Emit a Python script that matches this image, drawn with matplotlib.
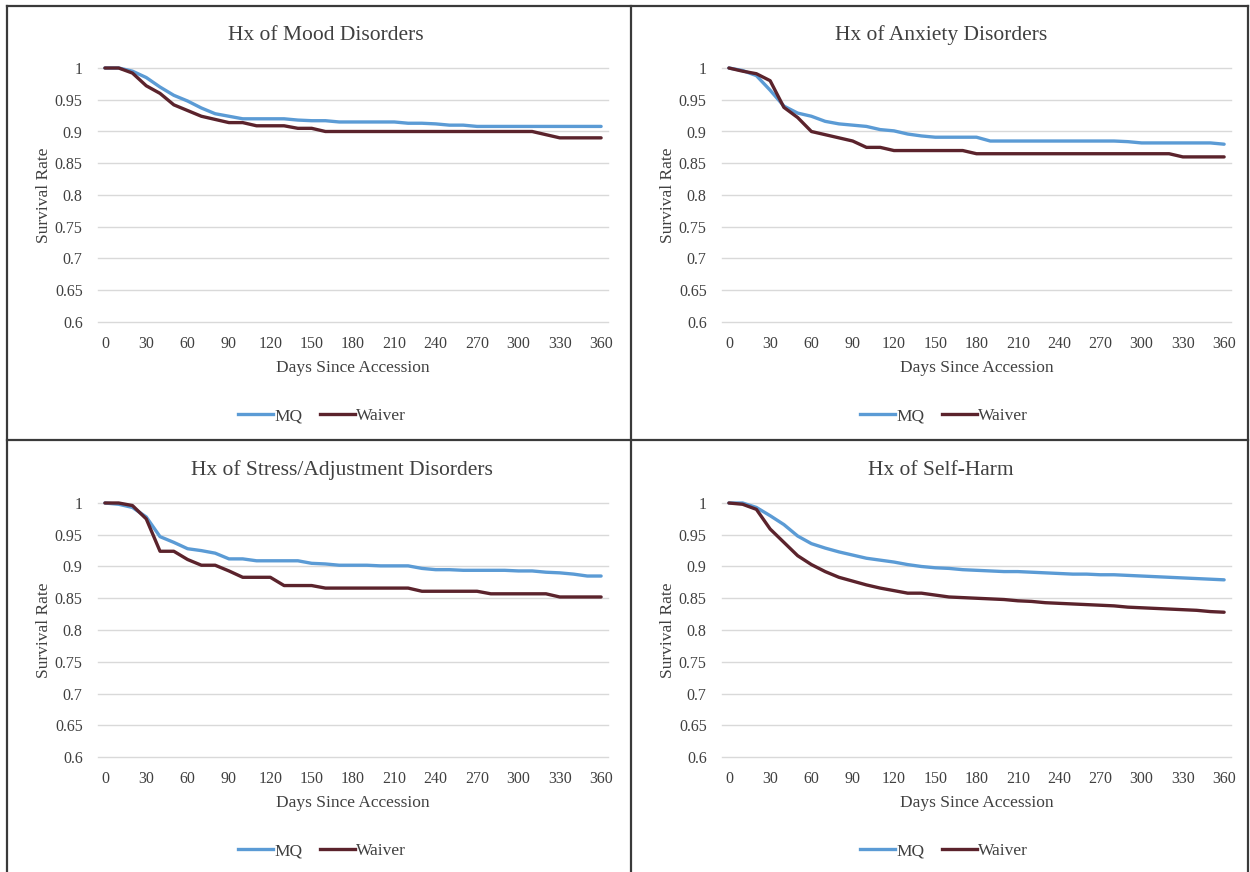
import numpy as np
import matplotlib
matplotlib.use("Agg")
import matplotlib.pyplot as plt
from matplotlib.lines import Line2D

plt.rcParams["font.family"] = ["Liberation Serif", "DejaVu Serif"]

# Days since accession, sampled every 10 days
days = list(range(0, 361, 10))

titles = [
    "Hx of Mood Disorders",
    "Hx of Anxiety Disorders",
    "Hx of Stress/Adjustment Disorders",
    "Hx of Self-Harm",
]

mood_mq = [1.0, 1.0, 0.995, 0.985, 0.97, 0.957, 0.948, 0.937, 0.928, 0.924,
           0.92, 0.92, 0.92, 0.92, 0.918, 0.917, 0.917, 0.915, 0.915, 0.915,
           0.915, 0.915, 0.913, 0.913, 0.912, 0.91, 0.91, 0.908, 0.908, 0.908,
           0.908, 0.908, 0.908, 0.908, 0.908, 0.908, 0.908]
mood_waiver = [1.0, 1.0, 0.992, 0.972, 0.96, 0.942, 0.933, 0.924, 0.919, 0.914,
               0.914, 0.909, 0.909, 0.909, 0.905, 0.905, 0.9, 0.9, 0.9, 0.9,
               0.9, 0.9, 0.9, 0.9, 0.9, 0.9, 0.9, 0.9, 0.9, 0.9,
               0.9, 0.9, 0.895, 0.89, 0.89, 0.89, 0.89]

anx_mq = [1.0, 0.996, 0.988, 0.965, 0.94, 0.929, 0.924, 0.916, 0.912, 0.91,
          0.908, 0.903, 0.901, 0.896, 0.893, 0.891, 0.891, 0.891, 0.891, 0.885,
          0.885, 0.885, 0.885, 0.885, 0.885, 0.885, 0.885, 0.885, 0.885, 0.884,
          0.882, 0.882, 0.882, 0.882, 0.882, 0.882, 0.88]
anx_waiver = [1.0, 0.995, 0.991, 0.98, 0.938, 0.922, 0.9, 0.895, 0.89, 0.885,
              0.875, 0.875, 0.87, 0.87, 0.87, 0.87, 0.87, 0.87, 0.865, 0.865,
              0.865, 0.865, 0.865, 0.865, 0.865, 0.865, 0.865, 0.865, 0.865, 0.865,
              0.865, 0.865, 0.865, 0.86, 0.86, 0.86, 0.86]

stress_mq = [1.0, 0.998, 0.993, 0.978, 0.947, 0.938, 0.928, 0.925, 0.921, 0.912,
             0.912, 0.909, 0.909, 0.909, 0.909, 0.905, 0.904, 0.902, 0.902, 0.902,
             0.901, 0.901, 0.901, 0.897, 0.895, 0.895, 0.894, 0.894, 0.894, 0.894,
             0.893, 0.893, 0.891, 0.89, 0.888, 0.885, 0.885]
stress_waiver = [1.0, 1.0, 0.996, 0.975, 0.924, 0.924, 0.911, 0.902, 0.902, 0.893,
                 0.883, 0.883, 0.883, 0.87, 0.87, 0.87, 0.866, 0.866, 0.866, 0.866,
                 0.866, 0.866, 0.866, 0.861, 0.861, 0.861, 0.861, 0.861, 0.857, 0.857,
                 0.857, 0.857, 0.857, 0.852, 0.852, 0.852, 0.852]

harm_mq = [1.0, 1.0, 0.993, 0.98, 0.966, 0.948, 0.936, 0.929, 0.923, 0.918,
           0.913, 0.91, 0.907, 0.903, 0.9, 0.898, 0.897, 0.895, 0.894, 0.893,
           0.892, 0.892, 0.891, 0.89, 0.889, 0.888, 0.888, 0.887, 0.887, 0.886,
           0.885, 0.884, 0.883, 0.882, 0.881, 0.88, 0.879]
harm_waiver = [1.0, 0.998, 0.99, 0.959, 0.938, 0.917, 0.903, 0.892, 0.883, 0.877,
               0.871, 0.866, 0.862, 0.858, 0.858, 0.855, 0.852, 0.851, 0.85, 0.849,
               0.848, 0.846, 0.845, 0.843, 0.842, 0.841, 0.84, 0.839, 0.838, 0.836,
               0.835, 0.834, 0.833, 0.832, 0.831, 0.829, 0.828]

mq_series = [mood_mq, anx_mq, stress_mq, harm_mq]
waiver_series = [mood_waiver, anx_waiver, stress_waiver, harm_waiver]

x_ticks = list(range(0, 361, 30))
y_ticks = [0.6, 0.65, 0.7, 0.75, 0.8, 0.85, 0.9, 0.95, 1.0]
y_ticklabels = ["0.6", "0.65", "0.7", "0.75", "0.8", "0.85", "0.9", "0.95", "1"]

MQ_COLOR = "#5B9BD5"
WAIVER_COLOR = "#5B232C"
TEXT_COLOR = "#404040"
GRID_COLOR = "#D9D9D9"
BORDER_COLOR = "#3A3A3A"

W, H = 1250, 872
fig = plt.figure(figsize=(W / 100, H / 100), dpi=100, facecolor="white")


def fx(px):
    return px / W


def fy(py):
    return 1 - py / H


# pixel boxes (left, right, top, bottom) for each plot area
boxes = [
    (98, 608, 68, 322),
    (722, 1231, 68, 322),
    (98, 608, 503, 757),
    (722, 1231, 503, 757),
]
title_pos = [(326, 35), (941, 35), (342, 470), (941, 470)]
legend_pos = [(322, 416), (944, 416), (322, 851), (944, 851)]

for i in range(4):
    l, r, t, b = boxes[i]
    ax = fig.add_axes([fx(l), fy(b), (r - l) / W, (b - t) / H])
    ax.plot(days, mq_series[i], color=MQ_COLOR, lw=2.4,
            solid_capstyle="round", solid_joinstyle="round",
            clip_on=False, zorder=3, label="MQ")
    ax.plot(days, waiver_series[i], color=WAIVER_COLOR, lw=2.4,
            solid_capstyle="round", solid_joinstyle="round",
            clip_on=False, zorder=3, label="Waiver")

    ax.set_xlim(-5, 365)
    ax.set_ylim(0.6, 1.0)
    ax.set_xticks(x_ticks)
    ax.set_yticks(y_ticks)
    ax.set_yticklabels(y_ticklabels)
    ax.tick_params(length=0, labelsize=11.5, labelcolor=TEXT_COLOR)
    ax.tick_params(axis="y", pad=11)
    ax.tick_params(axis="x", pad=10)
    for s in ax.spines.values():
        s.set_visible(False)
    ax.grid(axis="y", color=GRID_COLOR, lw=1.0)
    for gl in ax.get_ygridlines():
        gl.set_clip_on(False)
    ax.set_axisbelow(True)

    ax.set_xlabel("Days Since Accession", fontsize=12.5, color=TEXT_COLOR,
                  labelpad=6)
    ax.set_ylabel("Survival Rate", fontsize=12.5, color=TEXT_COLOR,
                  labelpad=2)

    tx, ty = title_pos[i]
    fig.text(fx(tx), fy(ty), titles[i], fontsize=15.5, color=TEXT_COLOR,
             ha="center", va="center")

    lx, ly = legend_pos[i]
    handles = [Line2D([], [], color=MQ_COLOR, lw=2.4),
               Line2D([], [], color=WAIVER_COLOR, lw=2.4)]
    fig.legend(handles, ["MQ", "Waiver"], loc="center",
               bbox_to_anchor=(fx(lx), fy(ly)), ncol=2, frameon=False,
               fontsize=12.5, handlelength=2.0, handletextpad=0.1,
               columnspacing=1.0, labelcolor=TEXT_COLOR)

# table-style borders around the four panels
border_lines = [
    ((7, 7), (6, 872)),
    ((631, 631), (6, 872)),
    ((1248, 1248), (6, 872)),
    ((7, 1248), (6, 6)),
    ((7, 1248), (440, 440)),
]
for xs, ys in border_lines:
    fig.add_artist(Line2D([fx(xs[0]), fx(xs[1])], [fy(ys[0]), fy(ys[1])],
                          color=BORDER_COLOR, lw=1.6))

fig.savefig("out.png", dpi=100, facecolor="white")
